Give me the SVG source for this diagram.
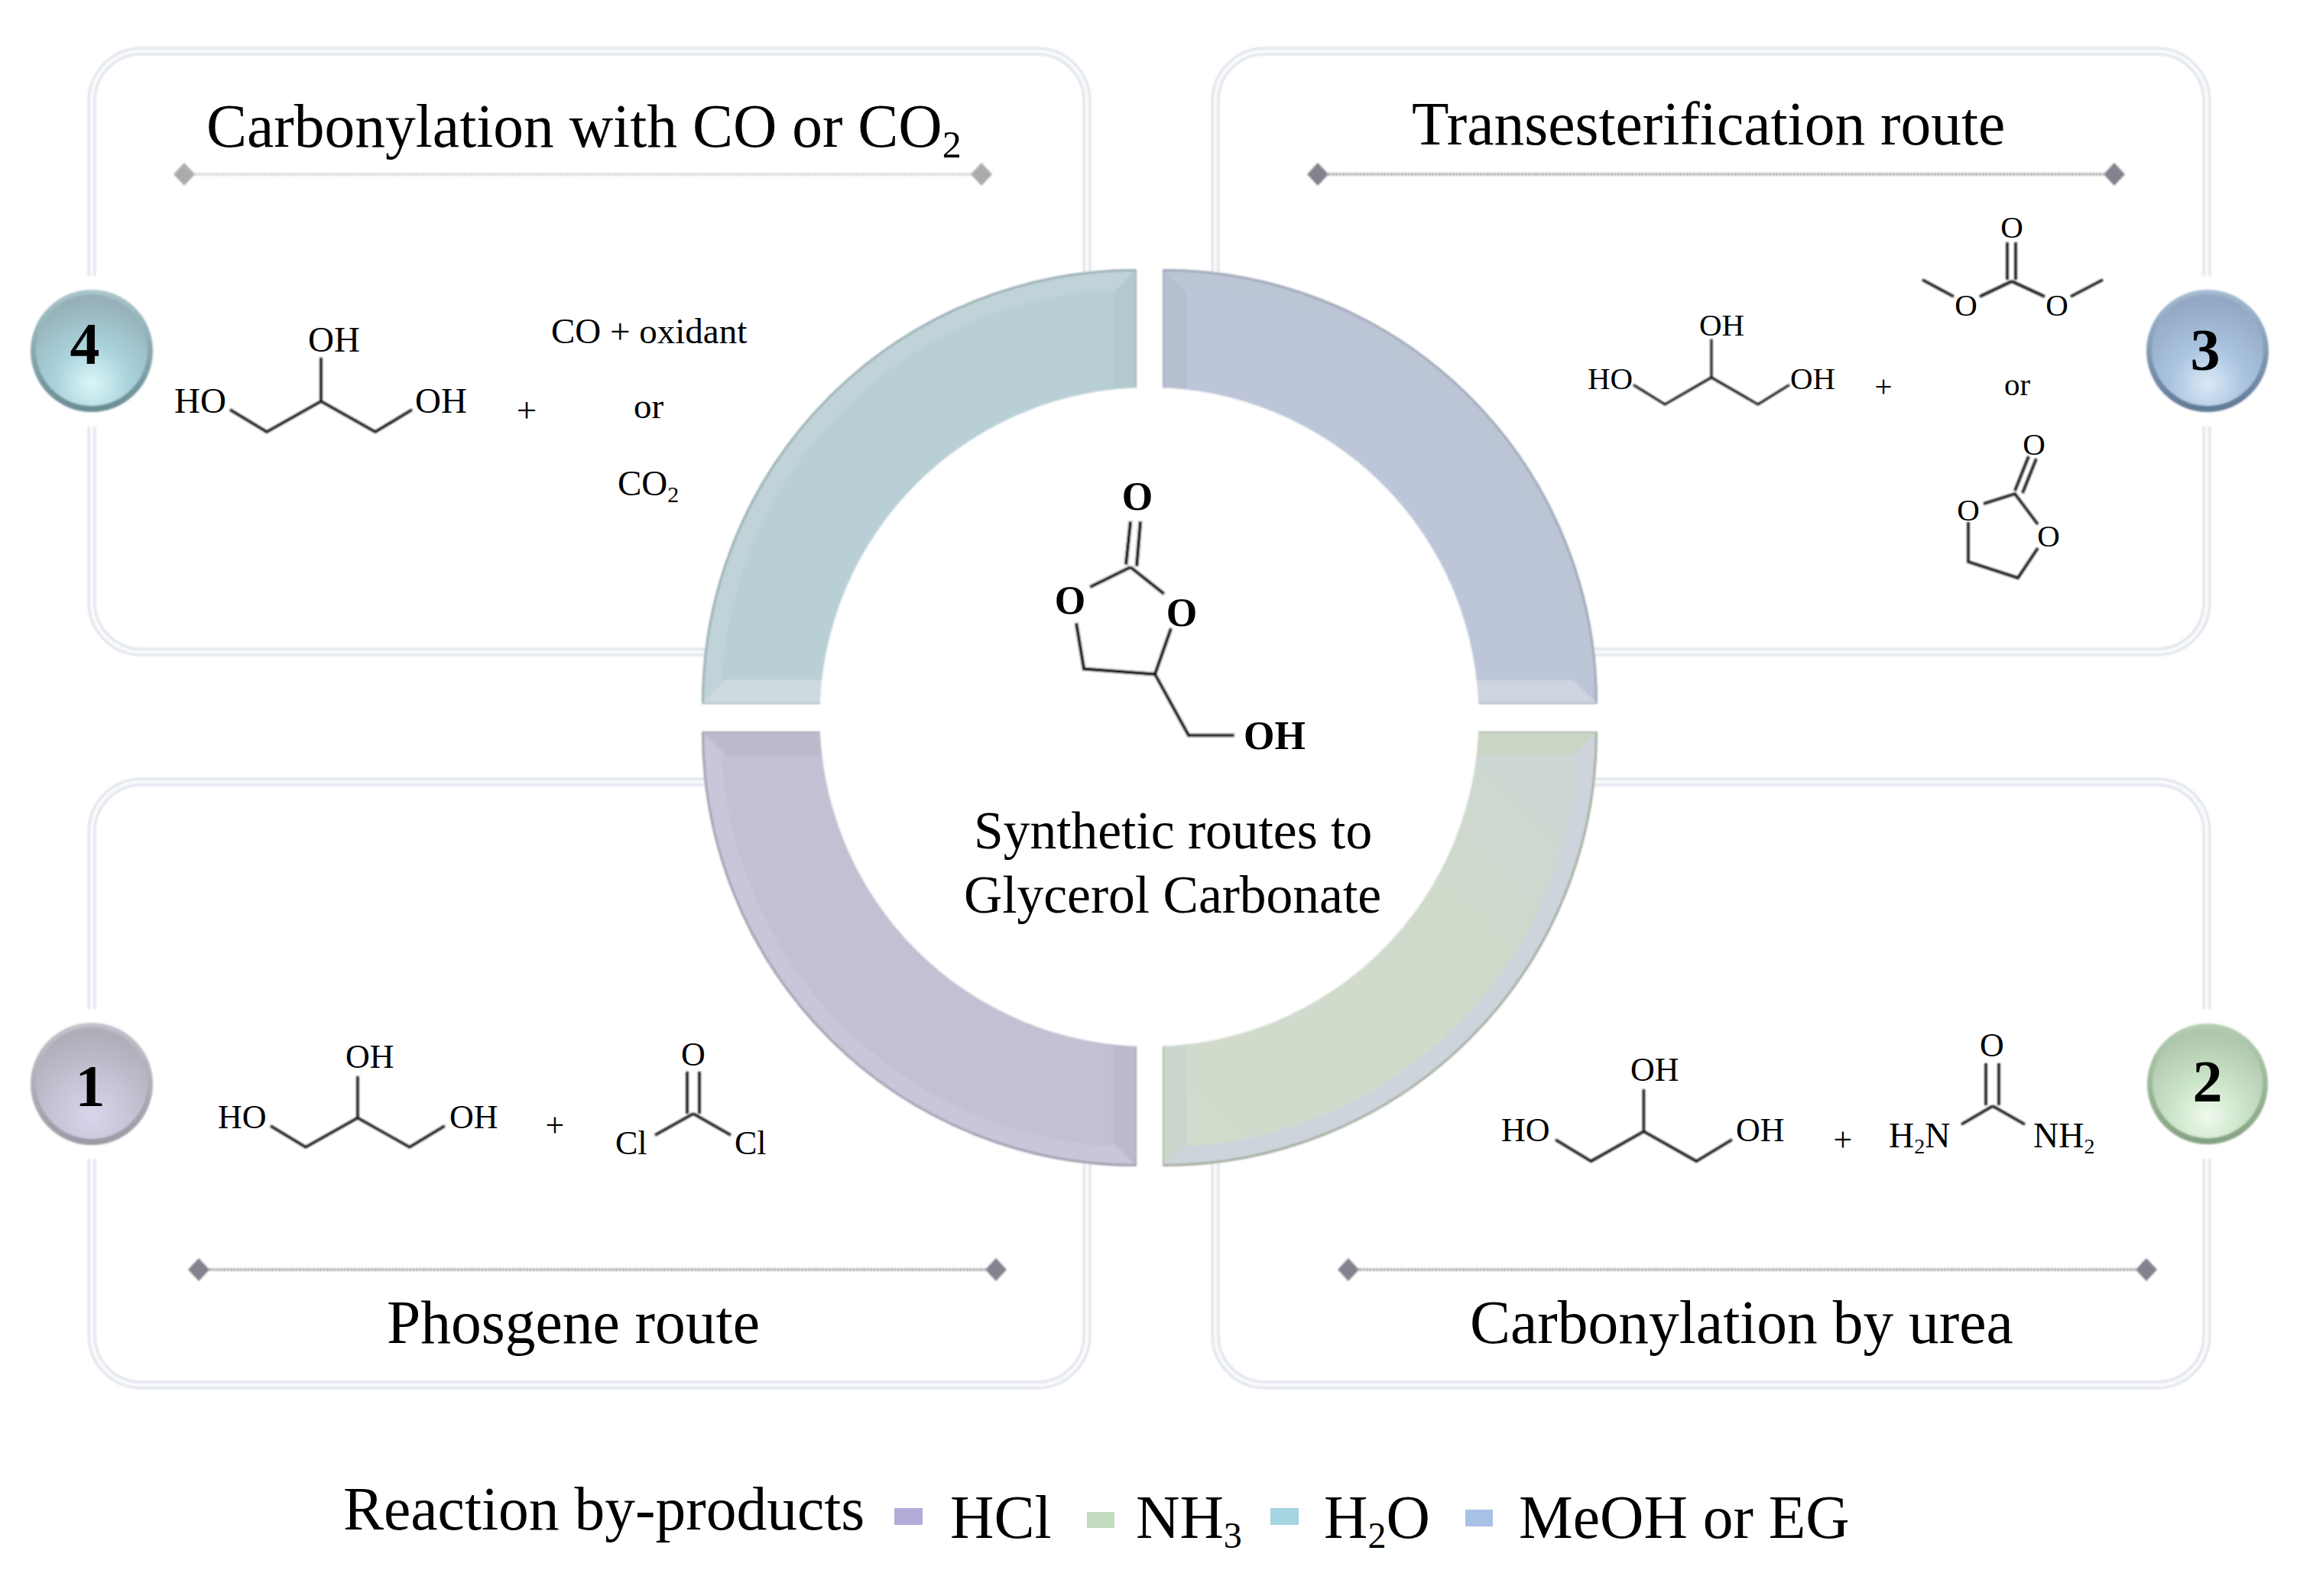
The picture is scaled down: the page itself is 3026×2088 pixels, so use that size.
<svg xmlns="http://www.w3.org/2000/svg" width="3026" height="2088" viewBox="0 0 3026 2088">
<style>
text{font-family:"Liberation Serif","Times New Roman",serif;fill:#000}
.title{font-size:79.5px}
.center{font-size:69.5px}
.legend{font-size:79.5px}
.a{font-size:47px}
.b{font-size:41px}
.c{font-size:44px}
.m{text-anchor:middle}
.bold{font-size:52px;font-weight:bold}
.num{font-size:78px;font-weight:bold;text-anchor:middle}
.bond{fill:none;stroke:#1a1a1a;stroke-width:3.6;stroke-linejoin:miter}
.bondb{fill:none;stroke:#000;stroke-width:4.6}
.pout{fill:none;stroke:#dfe3ec;stroke-width:11}
.pin{fill:none;stroke:#f9fafc;stroke-width:5}
.dl{stroke:#9a9aa2;stroke-width:3.5;stroke-dasharray:3 1.5;fill:none}
.dl2{stroke:#c4c4c8;stroke-width:3;stroke-dasharray:3 1.5;fill:none}
</style>
<defs>
<filter id="soft" x="-2%" y="-2%" width="104%" height="104%"><feGaussianBlur stdDeviation="0.9"/></filter>
<radialGradient id="g4" cx="0.5" cy="0.8" r="0.75"><stop offset="0" stop-color="#dcf6f8"/><stop offset="0.45" stop-color="#a9d3dc"/><stop offset="1" stop-color="#96b0b8"/></radialGradient>
<radialGradient id="g3" cx="0.5" cy="0.8" r="0.75"><stop offset="0" stop-color="#dbe9f7"/><stop offset="0.45" stop-color="#a9c3e0"/><stop offset="1" stop-color="#93a8c4"/></radialGradient>
<radialGradient id="g1" cx="0.5" cy="0.8" r="0.75"><stop offset="0" stop-color="#d8d6ec"/><stop offset="0.45" stop-color="#c6c4d6"/><stop offset="1" stop-color="#aeadb8"/></radialGradient>
<radialGradient id="g2" cx="0.5" cy="0.8" r="0.75"><stop offset="0" stop-color="#f0faee"/><stop offset="0.45" stop-color="#cbe4c8"/><stop offset="1" stop-color="#aec6ac"/></radialGradient>
<linearGradient id="r4" x1="0" y1="0" x2="0" y2="1"><stop offset="0" stop-color="#a8c6cc"/><stop offset="1" stop-color="#6a8c94"/></linearGradient>
<linearGradient id="r3" x1="0" y1="0" x2="0" y2="1"><stop offset="0" stop-color="#a6bcd4"/><stop offset="1" stop-color="#5f7a96"/></linearGradient>
<linearGradient id="r1" x1="0" y1="0" x2="0" y2="1"><stop offset="0" stop-color="#c2c2cc"/><stop offset="1" stop-color="#9a9aa4"/></linearGradient>
<linearGradient id="r2" x1="0" y1="0" x2="0" y2="1"><stop offset="0" stop-color="#b4ceb2"/><stop offset="1" stop-color="#84a283"/></linearGradient>
<linearGradient id="brfill" x1="1" y1="0" x2="0" y2="1"><stop offset="0" stop-color="#d2dccc"/><stop offset="0.65" stop-color="#cfdacb"/><stop offset="1" stop-color="#cdd6d4"/></linearGradient>
<path id="pie" d="M-566 0A566 566 0 0 1 0 -566L0 0Z"/>
<path id="inner" d="M-541.2 -30A542 542 0 0 1 -30 -541.2L-30 -30Z"/>
<path id="sh" d="M-566 0L-536 -30L0 -30L0 0Z"/>
<path id="sv" d="M0 -566L-30 -536L-30 0L0 0Z"/>
<path id="d" d="M0 -15L14 0L0 15L-14 0Z"/>
<g id="glyc"><path class="bond" d="M0 0L48 29L119 -11L190 29L238 0"/><path class="bond" d="M119 -11L119 -68"/></g>
</defs>
<rect width="3026" height="2088" fill="#fff"/>
<g filter="url(#soft)">
<g id="panel-4">
<path class="pout" d="M120 361V132A65 65 0 0 1 185 67H1357A65 65 0 0 1 1422 132V400M1000 853H185A65 65 0 0 1 120 788V558"/>
<path class="pin" d="M120 361V132A65 65 0 0 1 185 67H1357A65 65 0 0 1 1422 132V400M1000 853H185A65 65 0 0 1 120 788V558"/>
</g>
<g id="panel-3">
<path class="pout" d="M1590 400V132A65 65 0 0 1 1655 67H2822A65 65 0 0 1 2887 132V361M2887 558V788A65 65 0 0 1 2822 853H2040"/>
<path class="pin" d="M1590 400V132A65 65 0 0 1 1655 67H2822A65 65 0 0 1 2887 132V361M2887 558V788A65 65 0 0 1 2822 853H2040"/>
</g>
<g id="panel-1">
<path class="pout" d="M1000 1023H185A65 65 0 0 0 120 1088V1320M120 1516V1747A65 65 0 0 0 185 1812H1357A65 65 0 0 0 1422 1747V1480"/>
<path class="pin" d="M1000 1023H185A65 65 0 0 0 120 1088V1320M120 1516V1747A65 65 0 0 0 185 1812H1357A65 65 0 0 0 1422 1747V1480"/>
</g>
<g id="panel-2">
<path class="pout" d="M2040 1023H2822A65 65 0 0 1 2887 1088V1320M2887 1516V1747A65 65 0 0 1 2822 1812H1655A65 65 0 0 1 1590 1747V1480"/>
<path class="pin" d="M2040 1023H2822A65 65 0 0 1 2887 1088V1320M2887 1516V1747A65 65 0 0 1 2822 1812H1655A65 65 0 0 1 1590 1747V1480"/>
</g>
<g id="ring">
<g id="seg-tl" transform="translate(1485.5 919.5)"><use href="#pie" fill="#c0d3d8" stroke="#9bb0b5" stroke-width="3"/><use href="#sh" fill="#cfdade"/><use href="#sv" fill="#b4c9ce"/><use href="#inner" fill="#b9cfd6"/></g>
<g id="seg-tr" transform="translate(1522.5 919.5) scale(-1 1)"><use href="#pie" fill="#bcc5d6" stroke="#9fa8b8" stroke-width="3"/><use href="#sh" fill="#ced4e0"/><use href="#sv" fill="#b6bfd0"/><use href="#inner" fill="#bcc6d8"/></g>
<g id="seg-bl" transform="translate(1485.5 958.5) scale(1 -1)"><use href="#pie" fill="#c9c6da" stroke="#a3a0b1" stroke-width="3"/><use href="#sh" fill="#bcb9cc"/><use href="#sv" fill="#bcb9cc"/><use href="#inner" fill="#c3c0d3"/></g>
<g id="seg-br" transform="translate(1522.5 958.5) scale(-1 -1)"><use href="#pie" fill="#cdd4dc" stroke="#a5ad9f" stroke-width="3"/><use href="#sh" fill="#cad5c5"/><use href="#sv" fill="#cbd5cc"/><use href="#inner" fill="url(#brfill)"/></g>
<circle cx="1503.5" cy="938" r="431" fill="#fff"/>
</g>
<g id="connectors">
<path class="dl2" d="M255 228H1270"/><use href="#d" x="241" y="228" fill="#ababab"/><use href="#d" x="1284" y="228" fill="#ababab"/>
<path class="dl" d="M1738 228H2752"/><use href="#d" x="1724" y="228" fill="#83838f"/><use href="#d" x="2766" y="228" fill="#83838f"/>
<path class="dl" d="M274 1661H1289"/><use href="#d" x="260" y="1661" fill="#83838f"/><use href="#d" x="1303" y="1661" fill="#83838f"/>
<path class="dl" d="M1778 1661H2794"/><use href="#d" x="1764" y="1661" fill="#83838f"/><use href="#d" x="2808" y="1661" fill="#83838f"/>
</g>
<g id="badge-4"><circle cx="120" cy="459" r="80" fill="url(#r4)"/><circle cx="120" cy="458" r="73" fill="url(#g4)"/></g>
<g id="badge-3"><circle cx="2888" cy="459" r="80" fill="url(#r3)"/><circle cx="2888" cy="458" r="73" fill="url(#g3)"/></g>
<g id="badge-1"><circle cx="120" cy="1418" r="80" fill="url(#r1)"/><circle cx="120" cy="1417" r="73" fill="url(#g1)"/></g>
<g id="badge-2"><circle cx="2888" cy="1418" r="79" fill="url(#r2)"/><circle cx="2888" cy="1417" r="72" fill="url(#g2)"/></g>
<g id="bonds-center">
<path class="bondb" d="M1479 682L1473 739M1492 682L1487 741M1479 742L1426 768M1479 742L1523 777M1408 815L1418 875L1511 882L1532 822M1511 882L1555 962L1615 962"/>
</g>
<use href="#glyc" x="301" y="536"/>
<g transform="translate(2137 503.5) scale(.857 .88)"><use href="#glyc"/></g>
<g transform="translate(354 1473) scale(.957)"><use href="#glyc"/></g>
<g transform="translate(2035 1491) scale(.97)"><use href="#glyc"/></g>
<path class="bond" d="M2626 317V366M2637 317V366M2632 368L2590 388M2632 368L2675 388M2556 388L2515 366M2709 388L2751 366"/>
<path class="bond" d="M2654 597L2636 642M2664 600L2646 645M2595 659L2636 646L2666 686M2666 717L2640 756L2575 735V683"/>
<path class="bond" d="M899 1402V1457M915 1402V1457M907 1457L857 1485M907 1457L956 1485"/>
<path class="bond" d="M2598 1391V1446M2615 1391V1446M2607 1447L2566 1471M2607 1447L2649 1471"/>
</g>
<g id="texts">
<text class="title" x="270" y="192">Carbonylation with CO or CO<tspan font-size="50" dy="14">2</tspan></text>
<text class="title" x="1847" y="189">Transesterification route</text>
<text class="title" x="506" y="1757">Phosgene route</text>
<text class="title" x="1923" y="1757">Carbonylation by urea</text>
<text class="center" x="1274" y="1110">Synthetic routes to</text>
<text class="center" x="1261" y="1194">Glycerol Carbonate</text>
<text class="bold" x="1488" y="667" text-anchor="middle">O</text>
<text class="bold" x="1400" y="803" text-anchor="middle">O</text>
<text class="bold" x="1546" y="819" text-anchor="middle">O</text>
<text class="bold" x="1627" y="980">OH</text>
<text class="num" x="111" y="476">4</text>
<text class="num" x="2885" y="484">3</text>
<text class="num" x="118" y="1447">1</text>
<text class="num" x="2888" y="1441">2</text>
<text class="a" x="228" y="540">HO</text><text class="a" x="403" y="460">OH</text><text class="a" x="543" y="540">OH</text>
<text class="a m" x="689" y="552">+</text>
<text class="a" x="721" y="449">CO + oxidant</text>
<text class="a" x="829" y="547">or</text>
<text class="a" x="808" y="648">CO<tspan font-size="30" dy="9">2</tspan></text>
<text class="b" x="2077" y="509">HO</text><text class="b" x="2223" y="439">OH</text><text class="b" x="2342" y="509">OH</text>
<text class="b m" x="2464" y="519">+</text>
<text class="b" x="2622" y="517">or</text>
<text class="b m" x="2632" y="311">O</text><text class="b m" x="2572" y="413">O</text><text class="b m" x="2691" y="413">O</text>
<text class="b m" x="2661" y="595">O</text><text class="b m" x="2575" y="681">O</text><text class="b m" x="2680" y="715">O</text>
<text class="c" x="285" y="1476">HO</text><text class="c" x="452" y="1397">OH</text><text class="c" x="588" y="1476">OH</text>
<text class="c m" x="726" y="1487">+</text>
<text class="c m" x="907" y="1394">O</text>
<text class="c" x="805" y="1510">Cl</text><text class="c" x="961" y="1510">Cl</text>
<text class="c" x="1964" y="1493">HO</text><text class="c" x="2133" y="1414">OH</text><text class="c" x="2271" y="1493">OH</text>
<text class="c m" x="2411" y="1506">+</text>
<text class="c m" x="2606" y="1382">O</text>
<text class="c" x="2471" y="1501" font-size="46" style="font-size:46px">H<tspan font-size="28" dy="8">2</tspan><tspan dy="-8">N</tspan></text>
<text class="c" x="2660" y="1501" style="font-size:46px">NH<tspan font-size="28" dy="8">2</tspan></text>
</g>
<g id="legend">
<text class="legend" x="449" y="2001">Reaction by-products</text>
<rect x="1170" y="1973" width="37" height="22" fill="#b4acd8"/>
<text class="legend" x="1243" y="2012">HCl</text>
<rect x="1422" y="1978" width="36" height="21" fill="#c3dcc0"/>
<text class="legend" x="1486" y="2012">NH<tspan font-size="48" dy="13">3</tspan></text>
<rect x="1662" y="1973" width="37" height="22" fill="#a5d5e0"/>
<text class="legend" x="1732" y="2012">H<tspan font-size="48" dy="13">2</tspan><tspan dy="-13">O</tspan></text>
<rect x="1917" y="1975" width="36" height="22" fill="#a8c0e6"/>
<text class="legend" x="1987" y="2012">MeOH or EG</text>
</g>
</svg>
